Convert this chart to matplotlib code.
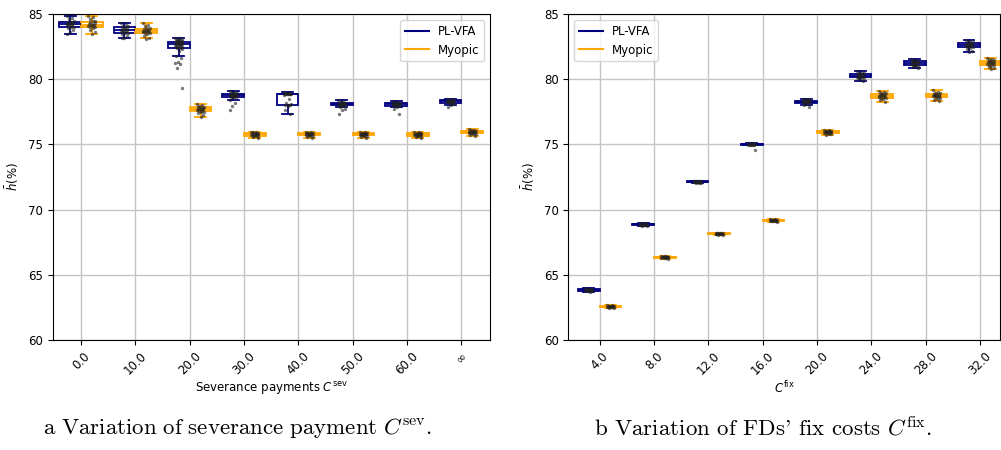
import numpy as np
import matplotlib
matplotlib.use("Agg")
import matplotlib.pyplot as plt
from matplotlib.lines import Line2D

# ---------------- data ----------------
sev_labels = ['0.0', '10.0', '20.0', '30.0', '40.0', '50.0', '60.0', '∞']
fix_labels = ['4.0', '8.0', '12.0', '16.0', '20.0', '24.0', '28.0', '32.0']

sev_plvfa = [
    [84.87, 84.7, 84.6, 84.5, 84.42, 84.4, 84.35, 84.3, 84.26, 84.23, 84.2, 84.15, 84.1, 84.05, 84.0, 83.98, 83.9, 83.75, 83.6, 83.44],
    [84.33, 84.2, 84.1, 84.05, 84.03, 83.95, 83.9, 83.85, 83.8, 83.78, 83.75, 83.7, 83.65, 83.6, 83.55, 83.52, 83.45, 83.35, 83.2, 83.14],
    [83.19, 83.15, 83.1, 83.05, 83.0, 82.98, 82.95, 82.93, 82.9, 82.88, 82.85, 82.83, 82.8, 82.78, 82.76, 82.74, 82.72, 82.7, 82.68,
     82.65, 82.63, 82.6, 82.58, 82.55, 82.5, 82.47, 82.42, 82.37, 82.3, 82.2, 81.81, 81.6, 81.35, 81.27, 81.15, 80.84, 79.31],
    [79.13, 79.05, 79.0, 78.95, 78.92, 78.9, 78.88, 78.85, 78.82, 78.8, 78.78, 78.77, 78.75, 78.72, 78.7, 78.68, 78.65, 78.64, 78.58, 78.44, 78.16, 77.96, 77.65],
    [79.0, 78.95, 78.92, 78.9, 78.88, 78.87, 78.86, 78.85, 78.85, 78.84, 78.83, 78.8, 78.5, 78.2, 78.1, 78.05, 78.0, 78.0, 77.95, 77.65, 77.32],
    [78.38, 78.3, 78.25, 78.2, 78.18, 78.15, 78.13, 78.12, 78.11, 78.1, 78.08, 78.06, 78.04, 78.02, 78.0, 77.95, 77.9, 77.68, 77.62, 77.32],
    [78.35, 78.28, 78.22, 78.18, 78.15, 78.12, 78.1, 78.09, 78.08, 78.06, 78.05, 78.03, 78.0, 77.98, 77.95, 77.9, 77.72, 77.32],
    [78.5, 78.45, 78.42, 78.4, 78.38, 78.35, 78.33, 78.32, 78.3, 78.28, 78.25, 78.22, 78.2, 78.17, 78.12, 78.05, 77.9],
]
sev_myopic = [
    [84.87, 84.75, 84.6, 84.5, 84.45, 84.4, 84.3, 84.25, 84.2, 84.18, 84.15, 84.1, 84.05, 84.0, 83.98, 83.9, 83.8, 83.65, 83.47],
    [84.29, 84.15, 84.05, 83.95, 83.9, 83.85, 83.8, 83.75, 83.72, 83.7, 83.68, 83.65, 83.6, 83.57, 83.55, 83.45, 83.3, 83.15, 83.06],
    [78.09, 78.0, 77.95, 77.9, 77.87, 77.85, 77.8, 77.75, 77.72, 77.7, 77.68, 77.65, 77.6, 77.55, 77.52, 77.48, 77.4, 77.27, 77.1],
    [75.99, 75.95, 75.92, 75.9, 75.88, 75.85, 75.82, 75.8, 75.79, 75.78, 75.75, 75.72, 75.7, 75.68, 75.66, 75.62, 75.58, 75.48],
    [75.98, 75.94, 75.9, 75.88, 75.86, 75.84, 75.82, 75.8, 75.79, 75.78, 75.76, 75.74, 75.72, 75.7, 75.67, 75.63, 75.58, 75.5],
    [75.97, 75.93, 75.9, 75.87, 75.85, 75.83, 75.81, 75.8, 75.79, 75.77, 75.75, 75.73, 75.71, 75.69, 75.66, 75.62, 75.57, 75.5],
    [75.98, 75.94, 75.9, 75.88, 75.85, 75.83, 75.81, 75.8, 75.78, 75.77, 75.75, 75.73, 75.7, 75.68, 75.65, 75.61, 75.57, 75.52],
    [76.15, 76.1, 76.07, 76.05, 76.02, 76.0, 75.98, 75.97, 75.96, 75.95, 75.93, 75.91, 75.89, 75.86, 75.83, 75.8, 75.75, 75.66],
]
fix_plvfa = [
    [63.98, 63.95, 63.92, 63.9, 63.88, 63.87, 63.86, 63.85, 63.84, 63.83, 63.82, 63.8, 63.78, 63.76, 63.74, 63.7],
    [68.98, 68.95, 68.92, 68.9, 68.89, 68.88, 68.87, 68.86, 68.85, 68.84, 68.83, 68.82, 68.8, 68.78, 68.75],
    [72.22, 72.2, 72.18, 72.17, 72.16, 72.15, 72.14, 72.13, 72.12, 72.11, 72.1, 72.09, 72.07, 72.05, 72.02],
    [75.1, 75.08, 75.06, 75.05, 75.04, 75.03, 75.02, 75.01, 75.0, 74.99, 74.98, 74.97, 74.95, 74.92, 74.59],
    [78.5, 78.45, 78.42, 78.4, 78.37, 78.35, 78.33, 78.31, 78.3, 78.28, 78.26, 78.24, 78.22, 78.2, 78.17, 78.12, 78.05, 77.9],
    [80.66, 80.55, 80.48, 80.44, 80.41, 80.38, 80.35, 80.3, 80.28, 80.25, 80.22, 80.2, 80.16, 80.13, 80.1, 80.05, 79.98, 79.9],
    [81.55, 81.5, 81.45, 81.42, 81.4, 81.35, 81.3, 81.27, 81.24, 81.22, 81.2, 81.17, 81.13, 81.1, 81.05, 81.02, 80.95, 80.84],
    [83.0, 82.95, 82.9, 82.85, 82.8, 82.76, 82.72, 82.68, 82.65, 82.63, 82.6, 82.56, 82.52, 82.48, 82.44, 82.4, 82.3, 82.2, 82.09],
]
fix_myopic = [
    [62.7, 62.67, 62.64, 62.62, 62.6, 62.59, 62.58, 62.57, 62.56, 62.55, 62.54, 62.52, 62.5, 62.48, 62.45],
    [66.45, 66.43, 66.41, 66.4, 66.39, 66.38, 66.37, 66.36, 66.35, 66.34, 66.33, 66.32, 66.3, 66.28, 66.25],
    [68.24, 68.22, 68.2, 68.19, 68.18, 68.17, 68.16, 68.15, 68.14, 68.13, 68.12, 68.11, 68.1, 68.08, 68.06],
    [69.28, 69.26, 69.24, 69.22, 69.21, 69.2, 69.19, 69.18, 69.17, 69.16, 69.15, 69.14, 69.12, 69.1, 69.08],
    [76.12, 76.08, 76.05, 76.03, 76.01, 76.0, 75.98, 75.96, 75.95, 75.94, 75.92, 75.9, 75.88, 75.86, 75.83, 75.78, 75.7],
    [79.1, 79.02, 78.96, 78.93, 78.9, 78.85, 78.8, 78.76, 78.74, 78.72, 78.7, 78.66, 78.62, 78.58, 78.56, 78.5, 78.4, 78.29],
    [79.15, 79.05, 78.98, 78.94, 78.9, 78.86, 78.82, 78.78, 78.76, 78.74, 78.72, 78.68, 78.64, 78.6, 78.57, 78.5, 78.42, 78.36],
    [81.65, 81.58, 81.52, 81.47, 81.43, 81.4, 81.36, 81.32, 81.3, 81.28, 81.25, 81.2, 81.15, 81.1, 81.06, 81.03, 80.95, 80.85, 80.77],
]

series_names = ['PL-VFA', 'Myopic']
series_colors = ['navy', 'orange']

FS = 8.5


def draw_panel(ax, groups, labels, xlabel, xlim, legend_loc):
    n = len(labels)
    base = np.arange(n)
    offsets = [-0.2, 0.2]
    for data, off, col in zip(groups, offsets, series_colors):
        pos = base + off
        ax.boxplot(data, positions=pos, widths=0.4, showfliers=False,
                   patch_artist=True,
                   boxprops=dict(facecolor='white', edgecolor=col, linewidth=1.3),
                   whiskerprops=dict(color=col, linewidth=1.3),
                   capprops=dict(color=col, linewidth=1.3),
                   medianprops=dict(color=col, linewidth=1.3),
                   manage_ticks=False, zorder=2)
        for p, vals in zip(pos, data):
            k = np.arange(len(vals))
            jit = (((k * 7) % 11) / 10.0 - 0.5) * 0.13
            ax.scatter(p + jit, vals, s=6, color='#222222', alpha=0.6,
                       linewidths=0, zorder=3)
    ax.set_xticks(base)
    ax.set_xticklabels(labels, rotation=45, fontsize=FS)
    ax.set_xlim(*xlim)
    ax.set_ylim(60, 85)
    ax.set_yticks([60, 65, 70, 75, 80, 85])
    ax.tick_params(axis='y', labelsize=FS)
    ax.grid(True, color='#c4c4c4', linewidth=1.0)
    ax.set_axisbelow(True)
    ax.set_xlabel(xlabel, fontsize=FS, labelpad=2)
    ax.set_ylabel(r'$\bar{h}$(%)', fontsize=FS, labelpad=5)
    handles = [Line2D([0], [0], color=c, lw=1.5) for c in series_colors]
    ax.legend(handles, series_names, loc=legend_loc, fontsize=FS)


fig = plt.figure(figsize=(10.01, 4.5), dpi=100)
ax1 = fig.add_axes([0.0527, 0.2444, 0.437, 0.7244])
ax2 = fig.add_axes([0.5677, 0.2444, 0.4313, 0.7244])

draw_panel(ax1, [sev_plvfa, sev_myopic], sev_labels,
           r'Severance payments $C^{\mathrm{sev}}$', (-0.52, 7.53), 'upper right')
draw_panel(ax2, [fix_plvfa, fix_myopic], fix_labels,
           r'$C^{\mathrm{fix}}$', (-0.58, 7.37), 'upper left')

fig.text(0.237, 0.048, r'$\mathrm{a\ Variation\ of\ severance\ payment\ }C^{\mathrm{sev}}\mathrm{.}$',
         ha='center', va='center', fontsize=16.5, math_fontfamily='cm')
fig.text(0.762, 0.048, r"$\text{b Variation of FDs' fix costs }C^{\mathrm{fix}}\mathrm{.}$",
         ha='center', va='center', fontsize=16.5, math_fontfamily='cm')

fig.savefig('out.png', dpi=100)
